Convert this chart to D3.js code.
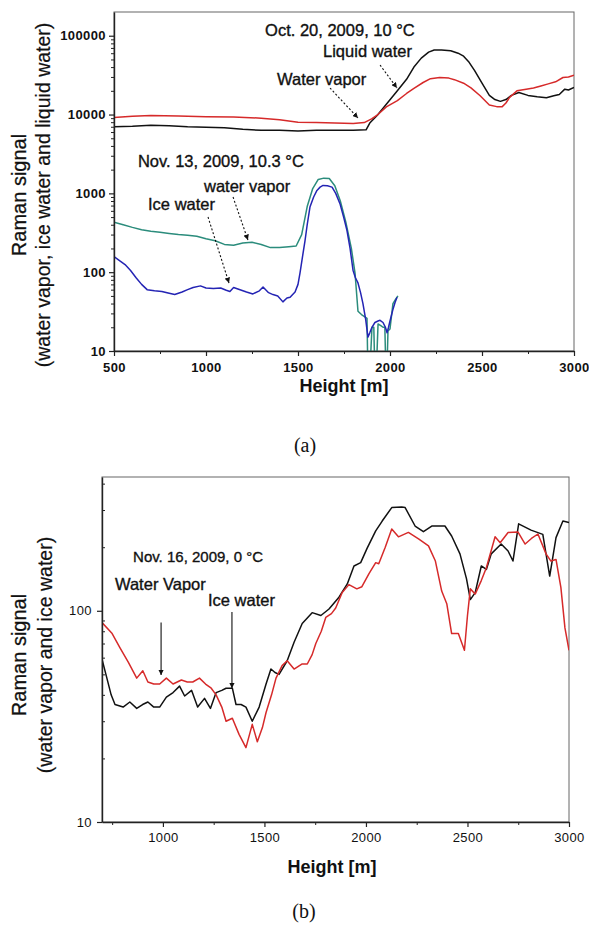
<!DOCTYPE html>
<html>
<head>
<meta charset="utf-8">
<script src="https://cdn.jsdelivr.net/npm/d3@7"></script>
<style>
  body { margin: 0; background: #fff; }
  svg { display: block; font-family: "Liberation Sans", Arial, sans-serif; }
</style>
</head>
<body>
<svg width="589" height="926"></svg>
<script>
// ---- (a) Oct. 20, 2009 ----
const octVaporH = [500, 600, 700, 850, 1000, 1150, 1300, 1400, 1500, 1600, 1700, 1800, 1860, 1900, 1930, 1980, 2040, 2090, 2130, 2180, 2220, 2270, 2320, 2350, 2400, 2440, 2490, 2540, 2580, 2610, 2630, 2650, 2690, 2740, 2780, 2820, 2860, 2900, 2940, 2970, 3000];
const octVapor = [9200, 9500, 9700, 9600, 9400, 9300, 9000, 8600, 8000, 7900, 7800, 7700, 7900, 8800, 9800, 12500, 15000, 18500, 21500, 25500, 28500, 29500, 29000, 27700, 25000, 21800, 17300, 13200, 12600, 12600, 14000, 16500, 20000, 21000, 21700, 23000, 24500, 26000, 29500, 30000, 31500];

const octLiquidH = [500, 600, 700, 800, 900, 1000, 1100, 1200, 1300, 1400, 1500, 1600, 1700, 1800, 1870, 1890, 1930, 1980, 2040, 2090, 2130, 2170, 2210, 2240, 2280, 2330, 2370, 2400, 2430, 2460, 2500, 2540, 2570, 2600, 2630, 2660, 2700, 2750, 2800, 2850, 2890, 2920, 2950, 2970, 3000];
const octLiquid = [7000, 7100, 7300, 7200, 7000, 6900, 6800, 6500, 6300, 6300, 6200, 6300, 6300, 6300, 6400, 7800, 9700, 13500, 20000, 28000, 40000, 52000, 62000, 66000, 66000, 64500, 60000, 55000, 46000, 36000, 25000, 17500, 15500, 14700, 15500, 17500, 19000, 17500, 16800, 16300, 17300, 18000, 21000, 20500, 22000];

// ---- (a) Nov. 13, 2009 ----
const novVaporH = [500, 550, 600, 650, 700, 750, 800, 850, 900, 950, 1000, 1050, 1100, 1150, 1200, 1250, 1300, 1350, 1400, 1450, 1490, 1520, 1550, 1580, 1610, 1640, 1670, 1700, 1730, 1760, 1790, 1810, 1826, 1845, 1865, 1875, 1880, 1890, 1902, 1912, 1918, 1925, 1935, 1950, 1962, 1972, 1978, 1983, 1989, 2000, 2016, 2030, 2043];
const novVapor = [430, 400, 370, 345, 330, 320, 310, 300, 295, 285, 265, 250, 225, 220, 235, 240, 225, 205, 205, 210, 215, 300, 680, 1150, 1500, 1560, 1540, 1250, 800, 430, 200, 97, 32, 29, 27, 26, 5, 5, 20, 20, 5, 5, 22, 21, 20, 20, 5, 5, 18, 19, 40, 45, 50];

const novIceH = [500, 530, 560, 590, 620, 650, 680, 720, 760, 800, 830, 870, 900, 930, 970, 1000, 1040, 1080, 1110, 1130, 1150, 1185, 1220, 1255, 1290, 1310, 1340, 1364, 1390, 1418, 1440, 1457, 1484, 1500, 1511, 1525, 1538, 1550, 1565, 1585, 1603, 1620, 1636, 1660, 1685, 1705, 1728, 1748, 1766, 1783, 1799, 1812, 1826, 1840, 1853, 1868, 1880, 1890, 1902, 1918, 1935, 1946, 1962, 1975, 1984, 1992, 2000, 2015, 2027, 2038];
const novIce = [158, 140, 125, 105, 85, 70, 60, 58, 57, 54, 52, 56, 60, 64, 67, 63, 62, 63, 59, 57, 64, 60, 56, 53, 58, 65, 55, 52, 50, 42, 47, 48, 56, 70, 98, 160, 250, 400, 670, 900, 1090, 1200, 1260, 1250, 1200, 1000, 740, 500, 340, 200, 106, 85, 73, 55, 40, 25, 15, 17, 20, 23, 24, 24.5, 23, 20, 17, 20, 24, 33, 41, 48];

// ---- (b) Nov. 16, 2009 ----
const n16VaporH = [700, 750, 788, 830, 871, 901, 926, 955, 984, 1017, 1050, 1091, 1120, 1147, 1180, 1210, 1238, 1262, 1290, 1311, 1342, 1375, 1409, 1440, 1465, 1490, 1508, 1535, 1557, 1587, 1612, 1646, 1686, 1711, 1735, 1753, 1780, 1802, 1830, 1851, 1883, 1916, 1955, 1980, 2015, 2048, 2063, 2095, 2127, 2160, 2209, 2259, 2308, 2342, 2373, 2398, 2422, 2455, 2485, 2500, 2514, 2538, 2568, 2593, 2636, 2661, 2700, 2749, 2784, 2815, 2847, 2887, 2911, 2936, 2960, 2980, 3000];
const n16Vapor = [88, 78, 67, 57, 48, 52, 46, 45, 45, 48, 45, 47, 46, 46, 48, 45, 43, 40, 35, 30, 31, 26, 22.5, 29, 24, 28, 33, 40, 48, 55, 58, 53, 56, 56, 62, 70, 80, 93, 97, 103, 122, 133, 127, 130, 150, 169, 167, 200, 244, 224, 235, 219, 203, 172, 124, 108, 78, 78, 65, 95, 127, 120, 139, 160, 224, 210, 235, 236, 207, 220, 231, 186, 172, 175, 129, 83, 65];

const n16IceH = [700, 724, 745, 764, 804, 837, 871, 900, 926, 955, 984, 1017, 1050, 1082, 1107, 1141, 1171, 1205, 1234, 1262, 1290, 1311, 1342, 1360, 1385, 1409, 1440, 1474, 1508, 1532, 1552, 1572, 1612, 1646, 1686, 1735, 1778, 1818, 1867, 1908, 1941, 1974, 2006, 2048, 2080, 2127, 2176, 2193, 2242, 2283, 2324, 2389, 2422, 2463, 2495, 2514, 2538, 2568, 2593, 2617, 2666, 2700, 2724, 2752, 2813, 2871, 2905, 2936, 2970, 3000];
const n16Ice = [59, 48, 40, 36, 35, 37, 34.5, 36, 37, 35, 35, 39, 41, 44, 39.5, 42, 35, 38.5, 34.5, 41, 42, 43, 43, 36, 36, 35, 30, 35, 45, 53, 51, 50, 58, 71, 87, 98, 95, 102, 116, 134, 163, 169, 198, 239, 266, 308, 310, 308, 252, 237, 252, 252, 226, 186, 142, 113, 122, 163, 157, 186, 207, 192, 172, 258, 241, 230, 146, 222, 266, 262];

// ticks
const xTicksA = [500, 1000, 1500, 2000, 2500, 3000];
const xMinorA = [750, 1250, 1750, 2250, 2750];
const yTicksA = [10, 100, 1000, 10000, 100000];
const yMinorA = [1, 2, 3, 4].flatMap(k => [2, 3, 4, 5, 6, 7, 8, 9].map(m => m * Math.pow(10, k)));
const xTicksB = [1000, 1500, 2000, 2500, 3000];
const xMinorB = [750, 1250, 1750, 2250, 2750];
const yTicksB = [10, 100];
const yMinorB = [20, 30, 40, 50, 60, 70, 80, 90, 200, 300, 400];

// annotations (height, signal)
const textsA = [
  { t: "Oct. 20, 2009, 10 °C", h: 1321, v: 99000 },
  { t: "Liquid water", h: 1636, v: 53700 },
  { t: "Water vapor", h: 1386, v: 23700 },
  { t: "Nov. 13, 2009, 10.3 °C", h: 630, v: 2160 },
  { t: "water vapor", h: 989, v: 1040 },
  { t: "Ice water", h: 685, v: 614 }
];
const arrowsA = [
  [[1674, 21700], [1826, 9040]],
  [[1946, 42500], [2038, 21700]],
  [[1147, 898], [1228, 256]],
  [[1011, 501], [1125, 72.8]]
];
const textsB = [
  { t: "Nov. 16, 2009, 0 °C", h: 853, v: 170, size: 15 },
  { t: "Water Vapor", h: 764, v: 125, size: 16.5 },
  { t: "Ice water", h: 1222, v: 105, size: 16.5 }
];
const arrowsB = [
  [[991, 88], [991, 49.6]],
  [[1340, 98.6], [1340, 43]]
];

const svg = d3.select("svg");
const defs = svg.append("defs");
defs.append("marker").attr("id", "head")
  .attr("viewBox", "0 0 6 6").attr("refX", 6).attr("refY", 3)
  .attr("markerWidth", 5).attr("markerHeight", 5).attr("orient", "auto")
  .append("path").attr("d", "M0,0 L6,3 L0,6 z").attr("fill", "#111");

function panel(cfg) {
  const g = svg.append("g").attr("transform", `translate(${cfg.left},${cfg.top})`);
  const x = d3.scaleLinear().domain(cfg.xDomain).range([0, cfg.width]);
  const y = d3.scaleLog().domain(cfg.yDomain).range([cfg.height, 0]);

  defs.append("clipPath").attr("id", "clip" + cfg.name)
    .append("rect").attr("width", cfg.width).attr("height", cfg.height);

  g.append("rect").attr("width", cfg.width).attr("height", cfg.height)
    .attr("fill", "none").attr("stroke", "#666").attr("stroke-width", 1);

  const line = d3.line().x(d => x(d[0])).y(d => y(d[1]));
  cfg.series.forEach(s => {
    g.append("path")
      .datum(d3.zip(s.h, s.v))
      .attr("clip-path", `url(#clip${cfg.name})`)
      .attr("fill", "none")
      .attr("stroke", s.color)
      .attr("stroke-width", 1.5)
      .attr("stroke-linejoin", "round")
      .attr("d", line);
  });

  // minor ticks
  g.append("g").attr("transform", `translate(0,${cfg.height})`)
    .call(d3.axisBottom(x).tickValues(cfg.xMinor).tickSize(3).tickFormat(""))
    .call(a => a.select(".domain").remove());
  g.append("g")
    .call(d3.axisLeft(y).tickValues(cfg.yMinor).tickSize(cfg.yMinorSize).tickFormat(""))
    .call(a => a.select(".domain").remove());

  // major axes
  const xa = g.append("g").attr("transform", `translate(0,${cfg.height})`)
    .call(d3.axisBottom(x).tickValues(cfg.xTicks).tickSize(5).tickSizeOuter(0)
      .tickPadding(cfg.xPad).tickFormat(d3.format("d")));
  const ya = g.append("g")
    .call(d3.axisLeft(y).tickValues(cfg.yTicks).tickSize(5).tickSizeOuter(0)
      .tickPadding(cfg.yPad).tickFormat(d3.format("d")));
  [xa, ya].forEach(a => {
    a.select(".domain").attr("stroke", "#222").attr("stroke-width", 1.4);
    a.selectAll(".tick line").attr("stroke", "#222").attr("stroke-width", 1.2);
    a.selectAll("text").attr("font-size", 13).attr("font-weight", cfg.tickWeight)
      .attr("letter-spacing", 0.4).attr("fill", "#111")
      .attr("font-family", "'Liberation Sans', Arial, sans-serif");
  });
  g.selectAll("g.tick line").attr("stroke", "#222");

  // axis titles
  g.append("text")
    .attr("transform", `translate(${cfg.t1x - cfg.left},${cfg.tCy - cfg.top}) rotate(-90)`)
    .attr("text-anchor", "middle").attr("font-size", 20).attr("fill", "#111")
    .attr("stroke", "#111").attr("stroke-width", 0.3)
    .text("Raman signal");
  g.append("text")
    .attr("transform", `translate(${cfg.t2x - cfg.left},${cfg.tCy - cfg.top}) rotate(-90)`)
    .attr("text-anchor", "middle").attr("font-size", 19.5).attr("fill", "#111")
    .attr("stroke", "#111").attr("stroke-width", 0.2)
    .text(cfg.yTitle2);
  g.append("text")
    .attr("x", cfg.hx - cfg.left).attr("y", cfg.hy - cfg.top)
    .attr("text-anchor", "middle").attr("font-size", 18).attr("font-weight", "bold")
    .attr("fill", "#111").text("Height [m]");

  // annotations
  cfg.texts.forEach(d => {
    g.append("text").attr("x", x(d.h)).attr("y", y(d.v))
      .attr("font-size", d.size || 16.5).attr("fill", "#111")
      .attr("stroke", "#111").attr("stroke-width", 0.35)
      .text(d.t);
  });
  cfg.arrows.forEach(a => {
    g.append("line")
      .attr("x1", x(a[0][0])).attr("y1", y(a[0][1]))
      .attr("x2", x(a[1][0])).attr("y2", y(a[1][1]))
      .attr("stroke", "#111").attr("stroke-width", 1.1)
      .attr("stroke-dasharray", cfg.arrowDash)
      .attr("marker-end", "url(#head)");
  });

  svg.append("text").attr("x", cfg.capX).attr("y", cfg.capY)
    .attr("text-anchor", "middle").attr("font-size", 20)
    .attr("font-family", "'Liberation Serif', 'Times New Roman', serif")
    .attr("fill", "#111").text(cfg.caption);
}

panel({
  name: "a", left: 114, top: 12, width: 460, height: 339,
  xDomain: [500, 3000], yDomain: [10, 200000],
  xTicks: xTicksA, xMinor: xMinorA, yTicks: yTicksA, yMinor: yMinorA, yMinorSize: 3,
  xPad: 7, yPad: 3, tickWeight: "bold",
  series: [
    { h: novVaporH, v: novVapor, color: "#2b8c7c" },
    { h: novIceH, v: novIce, color: "#2424b4" },
    { h: octLiquidH, v: octLiquid, color: "#111111" },
    { h: octVaporH, v: octVapor, color: "#d62a2a" }
  ],
  yTitle2: "(water vapor, ice water and liquid water)",
  t1x: 26, t2x: 50, tCy: 195, hx: 344, hy: 392,
  texts: textsA, arrows: arrowsA, arrowDash: "2,2",
  caption: "(a)", capX: 305, capY: 452
});

panel({
  name: "b", left: 102, top: 477, width: 467, height: 345,
  xDomain: [700, 3000], yDomain: [10, 430],
  xTicks: xTicksB, xMinor: xMinorB, yTicks: yTicksB, yMinor: yMinorB, yMinorSize: -3,
  xPad: 6, yPad: 5, tickWeight: "normal",
  series: [
    { h: n16IceH, v: n16Ice, color: "#111111" },
    { h: n16VaporH, v: n16Vapor, color: "#d62a2a" }
  ],
  yTitle2: "(water vapor and ice water)",
  t1x: 26, t2x: 52, tCy: 655, hx: 332, hy: 873,
  texts: textsB, arrows: arrowsB, arrowDash: null,
  caption: "(b)", capX: 304, capY: 918
});
</script>
</body>
</html>
